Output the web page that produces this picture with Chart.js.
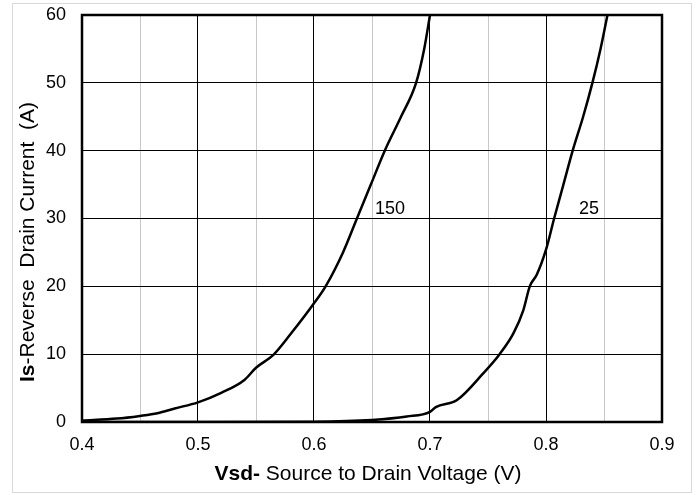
<!DOCTYPE html>
<html>
<head>
<meta charset="utf-8">
<script src="https://cdn.jsdelivr.net/npm/chart.js@4/dist/chart.umd.min.js"></script>
<style>
  html, body { margin: 0; padding: 0; background: #fff; }
  #wrap { width: 697px; height: 495px; }
</style>
</head>
<body>
<div id="wrap"><canvas id="chart" width="697" height="495"></canvas></div>
<script>
// Tj = 150 curve
const vsd150 = [0.40, 0.43, 0.45, 0.465, 0.48, 0.50, 0.52, 0.54, 0.55, 0.565, 0.58, 0.60, 0.61, 0.625, 0.637, 0.649, 0.661, 0.675, 0.688, 0.695, 0.700];
const is150 = [0.2, 0.5, 0.9, 1.3, 2.0, 2.9, 4.3, 6.2, 8.0, 9.9, 13.0, 17.5, 20, 25, 30, 35, 40, 45, 50, 55, 60];
// Tj = 25 curve
const vsd25 = [0.40, 0.50, 0.60, 0.65, 0.68, 0.70, 0.705, 0.723, 0.746, 0.76, 0.772, 0.7805, 0.786, 0.792, 0.80, 0.807, 0.815, 0.823, 0.832, 0.840, 0.847, 0.853];
const is25 = [0, 0, 0.05, 0.3, 0.8, 1.5, 2.2, 3.2, 7.2, 10, 13.1, 16.5, 20, 21.7, 25.4, 30, 35, 40, 45, 50, 55, 60];

const curveLabels = ["150", "25"];
const labelAt = [[0.6526, 31.4], [0.8284, 31.4]];

const xTitleBold = "Vsd-";
const xTitleRest = " Source to Drain Voltage (V)";
const yTitleBold = "Is";
const yTitleRest = "-Reverse  Drain Current  (A)";

const FONT = "'Liberation Sans', Arial, sans-serif";

const toPoints = (xs, ys) => xs.map((x, i) => ({ x: x, y: ys[i] }));

const frame = {
  id: "frame",
  beforeDraw(chart) {
    const ctx = chart.ctx;
    ctx.save();
    ctx.fillStyle = "#fff";
    ctx.fillRect(0, 0, chart.width, chart.height);
    ctx.strokeStyle = "#d9d9d9";
    ctx.lineWidth = 1;
    ctx.strokeRect(12.5, 3.5, 679, 489);
    ctx.restore();
  },
  afterDatasetsDraw(chart) {
    const ctx = chart.ctx;
    const a = chart.chartArea;
    const xs = chart.scales.x, ys = chart.scales.y;
    ctx.save();
    ctx.strokeStyle = "#000";
    ctx.lineWidth = 2.5;
    ctx.strokeRect(a.left, a.top, a.right - a.left, a.bottom - a.top);

    // curve labels
    ctx.fillStyle = "#000";
    ctx.font = "18px " + FONT;
    ctx.textAlign = "left";
    ctx.textBaseline = "middle";
    curveLabels.forEach((t, i) => {
      ctx.fillText(t, xs.getPixelForValue(labelAt[i][0]), ys.getPixelForValue(labelAt[i][1]));
    });

    // x title
    ctx.font = "bold 21px " + FONT;
    const wb = ctx.measureText(xTitleBold).width;
    ctx.font = "21px " + FONT;
    const wr = ctx.measureText(xTitleRest).width;
    const x0 = 368 - (wb + wr) / 2;
    ctx.font = "bold 21px " + FONT;
    ctx.fillText(xTitleBold, x0, 474);
    ctx.font = "21px " + FONT;
    ctx.fillText(xTitleRest, x0 + wb, 474);

    // y title
    ctx.translate(28, 242);
    ctx.rotate(-Math.PI / 2);
    ctx.font = "bold 21px " + FONT;
    const yb = ctx.measureText(yTitleBold).width;
    ctx.font = "21px " + FONT;
    const yr = ctx.measureText(yTitleRest).width;
    const y0 = -(yb + yr) / 2;
    ctx.font = "bold 21px " + FONT;
    ctx.fillText(yTitleBold, y0, 0);
    ctx.font = "21px " + FONT;
    ctx.fillText(yTitleRest, y0 + yb, 0);
    ctx.restore();
  }
};

const lineStyle = {
  borderColor: "#000",
  borderWidth: 2.5,
  pointRadius: 0,
  fill: false,
  tension: 0.4,
  cubicInterpolationMode: "monotone",
  showLine: true
};

new Chart(document.getElementById("chart"), {
  type: "scatter",
  data: {
    datasets: [
      Object.assign({ label: curveLabels[0], data: toPoints(vsd150, is150) }, lineStyle),
      Object.assign({ label: curveLabels[1], data: toPoints(vsd25, is25) }, lineStyle)
    ]
  },
  options: {
    responsive: false,
    animation: false,
    layout: { padding: { left: 32, right: 35, top: 15, bottom: 33 } },
    plugins: { legend: { display: false }, tooltip: { enabled: false } },
    scales: {
      x: {
        type: "linear",
        min: 0.4,
        max: 0.9,
        afterFit(scale) { scale.height = 40; scale.paddingLeft = 0; scale.paddingRight = 0; },
        border: { display: false },
        grid: {
          drawTicks: false,
          color: (c) => (c.index % 2 === 0 ? "#000" : "#c8c8c8"),
          lineWidth: 1
        },
        ticks: {
          stepSize: 0.05,
          autoSkip: false,
          maxRotation: 0,
          padding: 12,
          color: "#000",
          font: { family: FONT, size: 18 },
          callback: (v, i) => (i % 2 === 0 ? Number(v).toFixed(1) : "")
        }
      },
      y: {
        min: 0,
        max: 60,
        afterFit(scale) { scale.width = 50; scale.paddingTop = 0; scale.paddingBottom = 0; },
        border: { display: false },
        grid: { drawTicks: false, color: "#000", lineWidth: 1 },
        ticks: {
          stepSize: 10,
          padding: 16,
          color: "#000",
          font: { family: FONT, size: 18 }
        }
      }
    }
  },
  plugins: [frame]
});
</script>
</body>
</html>
